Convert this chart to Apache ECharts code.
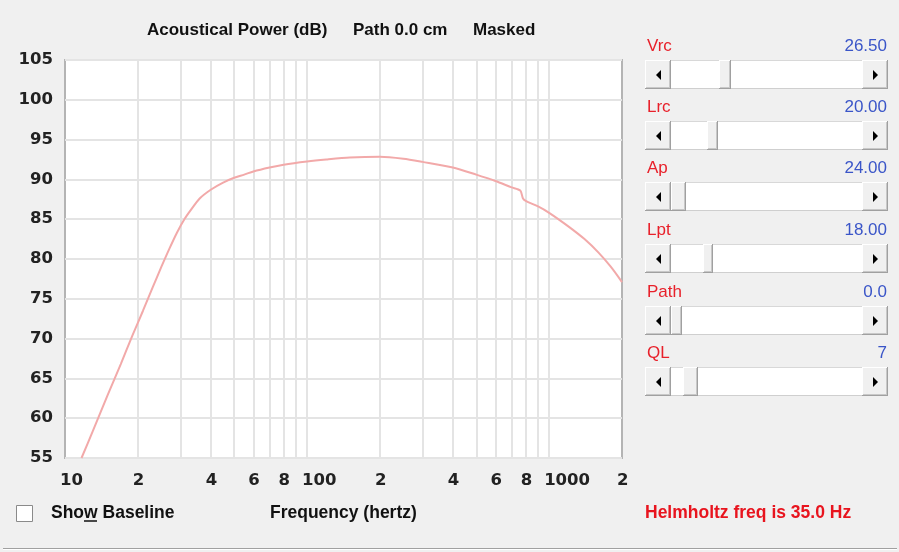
<!DOCTYPE html>
<html>
<head>
<meta charset="utf-8">
<script src="https://cdn.jsdelivr.net/npm/echarts@6/dist/echarts.min.js"></script>
<style>
html,body{margin:0;padding:0;background:#f0f0f0;}
#chart{width:899px;height:552px;}
</style>
</head>
<body>
<div id="chart"></div>
<script>
// ---- data ----
var freqHz = [11.7, 13, 15, 17, 19, 21, 23, 25, 27, 29, 31, 33, 36, 40, 45, 50, 55, 60, 70, 80, 100, 120, 150, 200, 250, 300, 400, 500, 600, 700, 760, 780, 800, 900, 1000, 1200, 1400, 1600, 1800, 2000];
var powerDb = [55.0, 58.3, 62.9, 66.8, 70.4, 73.5, 76.4, 79.0, 81.3, 83.3, 84.9, 86.1, 87.6, 88.7, 89.6, 90.2, 90.6, 91.0, 91.5, 91.85, 92.25, 92.5, 92.75, 92.85, 92.6, 92.2, 91.5, 90.6, 89.8, 89.0, 88.6, 87.6, 87.3, 86.6, 85.8, 84.1, 82.5, 80.8, 79.0, 77.1];
var gridFreqs = [20, 30, 40, 50, 60, 70, 80, 90, 100, 200, 300, 400, 500, 600, 700, 800, 900, 1000];
var labelFreqs = [10, 20, 40, 60, 80, 100, 200, 400, 600, 800, 1000, 2000];
var labelTexts = ['10', '2', '4', '6', '8', '100', '2', '4', '6', '8', '1000', '2'];
var sliderNames = ['Vrc', 'Lrc', 'Ap', 'Lpt', 'Path', 'QL'];
var sliderValues = ['26.50', '20.00', '24.00', '18.00', '0.0', '7'];
var titleParts = ['Acoustical Power (dB)', 'Path 0.0 cm', 'Masked'];
var xTitle = 'Frequency (hertz)';
var helmholtzText = 'Helmholtz freq is 35.0 Hz';

// ---- layout (not data) ----
var titleX = [147, 353, 473];
var sliderTops = [60, 121, 182, 244, 306, 367];
var thumbX = [[719, 731], [707, 718], [671, 686], [703, 713], [671, 682], [683, 698]];

var chart = echarts.init(document.getElementById('chart'), null, {renderer: 'canvas'});

var uiFont = '"Liberation Sans", Arial, sans-serif';
var axisFont = '"DejaVu Sans", Verdana, sans-serif';

function sliderGraphics() {
  var els = [];
  for (var i = 0; i < sliderNames.length; i++) {
    var t = sliderTops[i];
    var h = 29;
    els.push({type: 'text', x: 647, y: t - 14, style: {text: sliderNames[i], fill: '#e8202a', font: '17px ' + uiFont, verticalAlign: 'middle'}});
    els.push({type: 'text', x: 887, y: t - 14, style: {text: sliderValues[i], fill: '#3a55c8', font: '17px ' + uiFont, align: 'right', verticalAlign: 'middle'}});
    // track
    els.push({type: 'rect', shape: {x: 645, y: t, width: 243, height: h}, style: {fill: '#ffffff', stroke: null}});
    els.push({type: 'line', shape: {x1: 645, y1: t + 0.5, x2: 888, y2: t + 0.5}, style: {stroke: '#d8d8d8', lineWidth: 1}});
    els.push({type: 'line', shape: {x1: 645, y1: t + h - 0.5, x2: 888, y2: t + h - 0.5}, style: {stroke: '#cfcfcf', lineWidth: 1}});
    // buttons + thumb
    [[645, 671], [862, 888], [thumbX[i][0], thumbX[i][1]]].forEach(function (b, k) {
      var x0 = b[0], x1 = b[1];
      els.push({type: 'rect', shape: {x: x0, y: t, width: x1 - x0, height: h}, style: {fill: '#f0f0f0'}});
      els.push({type: 'line', shape: {x1: x0 + 0.5, y1: t, x2: x0 + 0.5, y2: t + h}, style: {stroke: '#ffffff', lineWidth: 1}});
      els.push({type: 'line', shape: {x1: x0, y1: t + 0.5, x2: x1, y2: t + 0.5}, style: {stroke: '#ffffff', lineWidth: 1}});
      els.push({type: 'line', shape: {x1: x1 - 0.5, y1: t, x2: x1 - 0.5, y2: t + h}, style: {stroke: '#a0a0a0', lineWidth: 1}});
      els.push({type: 'line', shape: {x1: x0, y1: t + h - 0.5, x2: x1, y2: t + h - 0.5}, style: {stroke: '#a0a0a0', lineWidth: 1}});
      els.push({type: 'line', shape: {x1: x1 - 1.5, y1: t + 1, x2: x1 - 1.5, y2: t + h - 1}, style: {stroke: '#c8c8c8', lineWidth: 1}});
      els.push({type: 'line', shape: {x1: x0 + 1, y1: t + h - 1.5, x2: x1 - 1, y2: t + h - 1.5}, style: {stroke: '#c8c8c8', lineWidth: 1}});
      if (k === 0) {
        els.push({type: 'polygon', shape: {points: [[661, t + 10], [661, t + 20], [656, t + 15]]}, style: {fill: '#000'}});
      } else if (k === 1) {
        els.push({type: 'polygon', shape: {points: [[873, t + 10], [873, t + 20], [878, t + 15]]}, style: {fill: '#000'}});
      }
    });
  }
  return els;
}

var graphics = titleParts.map(function (s, i) {
  return {type: 'text', x: titleX[i], y: 30, style: {text: s, fill: '#111', font: 'bold 17px ' + uiFont, verticalAlign: 'middle'}};
}).concat([
  {type: 'rect', shape: {x: 16.5, y: 505.5, width: 16, height: 16}, style: {fill: '#fff', stroke: '#8a8a8a', lineWidth: 1}},
  {type: 'text', x: 51, y: 513, style: {text: 'Show Baseline', fill: '#111', font: 'bold 17.5px ' + uiFont, verticalAlign: 'middle'}},
  {type: 'line', shape: {x1: 84, y1: 521, x2: 97, y2: 521}, style: {stroke: '#111', lineWidth: 1.5}},
  {type: 'text', x: 270, y: 513, style: {text: xTitle, fill: '#111', font: 'bold 17.5px ' + uiFont, verticalAlign: 'middle'}},
  {type: 'text', x: 645, y: 513, style: {text: helmholtzText, fill: '#e8141e', font: 'bold 17.5px ' + uiFont, verticalAlign: 'middle'}},
  {type: 'line', shape: {x1: 3, y1: 548.5, x2: 897, y2: 548.5}, style: {stroke: '#a0a0a0', lineWidth: 1}},
  {type: 'line', shape: {x1: 3, y1: 549.5, x2: 897, y2: 549.5}, style: {stroke: '#ffffff', lineWidth: 1}}
]).concat(sliderGraphics());

var option = {
  backgroundColor: '#f0f0f0',
  animation: false,
  grid: {left: 65, right: 277, top: 60, bottom: 94, show: true, backgroundColor: '#ffffff', borderColor: '#b4b4b4', borderWidth: 2, containLabel: false},
  xAxis: {
    type: 'log', logBase: 10, min: 10, max: 2000,
    axisLine: {show: false},
    axisTick: {show: false, customValues: gridFreqs},
    splitLine: {show: true, lineStyle: {color: '#e4e4e4', width: 2}},
    axisLabel: {
      customValues: labelFreqs,
      formatter: function (v) { var i = labelFreqs.indexOf(Math.round(v)); return i >= 0 ? labelTexts[i] : ''; },
      align: 'left', padding: [0, 0, 0, -5],
      margin: 14, color: '#222', fontSize: 16.5, fontWeight: 'bold', fontFamily: axisFont
    }
  },
  yAxis: {
    type: 'value', min: 55, max: 105, interval: 5,
    axisLine: {show: false}, axisTick: {show: false},
    splitLine: {show: true, lineStyle: {color: '#e4e4e4', width: 2}},
    axisLabel: {margin: 12, color: '#222', fontSize: 16.5, fontWeight: 'bold', fontFamily: axisFont}
  },
  series: [{
    type: 'line', data: freqHz.map(function (f, i) { return [f, powerDb[i]]; }),
    symbol: 'none', smooth: 0.25, clip: true,
    lineStyle: {color: '#f2a9a9', width: 2}
  }],
  graphic: graphics
};
chart.setOption(option);
</script>
</body>
</html>
